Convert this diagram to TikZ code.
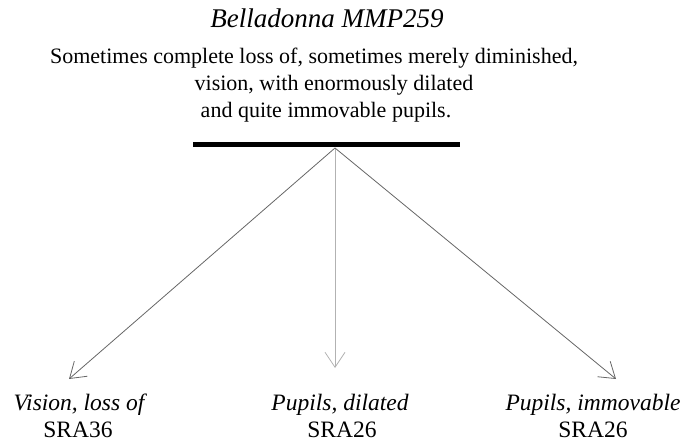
\documentclass[tikz,border=0pt]{standalone}
\usepackage{fontspec}
\setmainfont{Liberation Serif}
\usetikzlibrary{arrows.meta}
\begin{document}
\begin{tikzpicture}[x=1bp,y=-1bp,
  arr/.style={draw=black!60,line width=0.8bp,-{Straight Barb[length=15bp,width=20bp,line width=0.8bp]}},
  lbl/.style={anchor=base,inner sep=0pt,font=\fontsize{23.5bp}{28bp}\selectfont},
  body/.style={anchor=base,inner sep=0pt,font=\fontsize{22bp}{26.5bp}\selectfont}]
\useasboundingbox (0,0) rectangle (682,444);
\node[anchor=base,inner sep=0pt,font=\fontsize{27bp}{32bp}\selectfont\itshape] (title) at (327,28) {Belladonna MMP259};
\node[body] (text1) at (314,64) {Sometimes complete loss of, sometimes merely diminished,};
\node[body] (text2) at (334,91) {vision, with enormously dilated};
\node[body] (text3) at (326,118) {and quite immovable pupils.};
\coordinate (bl) at (193,145);
\coordinate (br) at (460,145);
\draw[line width=5bp] (bl) -- (br);
\coordinate (o) at (335,148);
\coordinate (t1) at (69,379);
\coordinate (t2) at (335,368);
\coordinate (t3) at (616,379);
\draw[arr] (o) -- (t1);
\draw[arr,draw=black!30] (o) -- (t2);
\draw[arr] (o) -- (t3);
\node[lbl] (l1a) at (79,410) {\itshape Vision, loss of};
\node[lbl] (l1b) at (78,437) {SRA36};
\node[lbl] (l2a) at (340,410) {\itshape Pupils, dilated};
\node[lbl] (l2b) at (342,437) {SRA26};
\node[lbl] (l3a) at (593,410) {\itshape Pupils, immovable};
\node[lbl] (l3b) at (593,437) {SRA26};
\end{tikzpicture}
\end{document}
